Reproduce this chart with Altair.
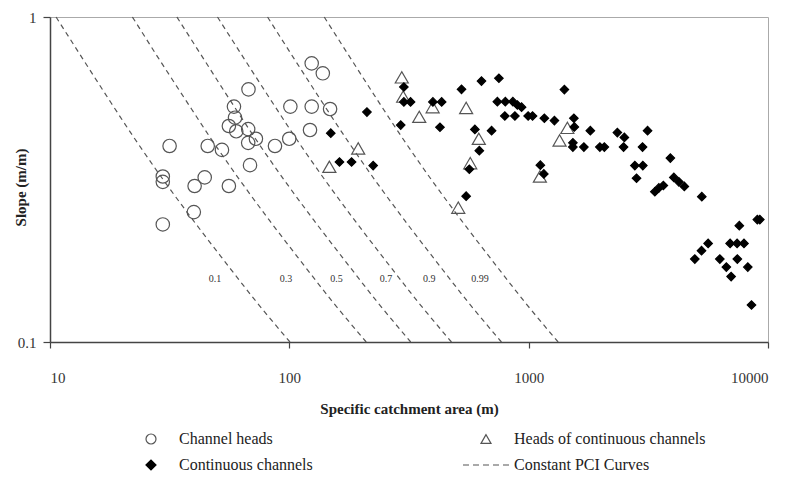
import altair as alt
import pandas as pd

# ---------------- data ----------------
# legend order (the legend fills column by column)
types = ["Channel heads", "Continuous channels",
         "Heads of continuous channels", "Constant PCI Curves"]

# Channel heads (open circles)
ch_area = [124, 138, 67.5, 58.7, 101, 124, 148, 59.3, 55.9, 67.3, 60.0, 122,
           72.5, 67.3, 99.9, 87.1, 31.6, 45.6, 52.3, 68.5, 29.6, 29.6, 44.3,
           40.2, 55.9, 39.9, 29.6]
ch_slope = [0.720, 0.671, 0.599, 0.530, 0.530, 0.530, 0.521, 0.490, 0.462,
            0.452, 0.445, 0.449, 0.422, 0.410, 0.422, 0.401, 0.401, 0.401,
            0.390, 0.350, 0.323, 0.311, 0.321, 0.302, 0.302, 0.251, 0.230]

# Heads of continuous channels (open triangles)
hc_area = [147, 194, 295, 299, 349, 397, 548, 619, 570, 508, 1114, 1451, 1346]
hc_slope = [0.346, 0.394, 0.652, 0.569, 0.493, 0.528, 0.525, 0.422, 0.355,
            0.259, 0.323, 0.456, 0.417]

# Continuous channels (filled diamonds)
cc_area = [149, 162, 182, 224, 211, 292, 301, 301, 321, 398, 433, 426, 524,
           635, 751, 740, 799, 859, 897, 934, 795, 876, 995, 1038, 1163, 1281,
           1410, 596, 700, 622, 565, 548, 1119, 1157, 1545, 1552, 1530, 1530,
           1701, 1810, 1984, 2071, 2347, 2511, 2492, 3139, 2991, 2777, 2999,
           2823, 3908, 4042, 4241, 4471, 3367, 3499, 3654, 5290, 9023, 9243,
           7588, 5622, 5275, 4946, 6946, 7429, 7937, 6292, 7445, 6697, 7014,
           8233, 8532]
cc_slope = [0.439, 0.358, 0.358, 0.349, 0.510, 0.465, 0.609, 0.548, 0.548,
            0.548, 0.548, 0.458, 0.599, 0.635, 0.648, 0.549, 0.549, 0.549,
            0.536, 0.528, 0.496, 0.496, 0.496, 0.496, 0.488, 0.480, 0.598,
            0.451, 0.447, 0.388, 0.340, 0.281, 0.350, 0.329, 0.488, 0.459,
            0.410, 0.398, 0.398, 0.447, 0.398, 0.398, 0.441, 0.426, 0.398,
            0.447, 0.398, 0.349, 0.349, 0.319, 0.368, 0.321, 0.311, 0.301,
            0.290, 0.298, 0.303, 0.280, 0.238, 0.238, 0.228, 0.201, 0.191,
            0.180, 0.201, 0.201, 0.201, 0.180, 0.180, 0.170, 0.159, 0.170,
            0.130]

# Constant PCI curves (dashed), read at these slope levels
pci_slope = [1.0, 0.750, 0.562, 0.422, 0.316, 0.237, 0.178, 0.133, 0.1]
pci_names = ["0.1", "0.3", "0.5", "0.7", "0.9", "0.99"]
pci_area = {
    "0.1":  [10.6, 13.6, 17.5, 22.6, 29.7, 39.6, 53.4, 72.8, 100.6],
    "0.3":  [22.1, 28.3, 36.5, 47.1, 61.9, 82.5, 111.2, 151.6, 209.5],
    "0.5":  [33.9, 43.5, 55.9, 72.2, 94.9, 126.6, 170.7, 232.7, 321.5],
    "0.7":  [50.1, 64.3, 82.8, 106.9, 140.5, 187.3, 252.6, 344.3, 475.8],
    "0.9":  [81.1, 104.0, 133.9, 172.9, 227.2, 302.9, 408.5, 556.9, 769.6],
    "0.99": [139.9, 179.5, 231.0, 298.3, 392.0, 522.7, 704.9, 961.0, 1328],
}
pci_label_area = [48.9, 96.8, 157.6, 253.2, 384.0, 625.5]
pci_label_slope = [0.156, 0.156, 0.156, 0.156, 0.156, 0.156]

# ---------------- tables ----------------
ch = pd.DataFrame({"area": ch_area, "slope": ch_slope, "type": "Channel heads"})
hc = pd.DataFrame({"area": hc_area, "slope": hc_slope,
                   "type": "Heads of continuous channels"})
cc = pd.DataFrame({"area": cc_area, "slope": cc_slope,
                   "type": "Continuous channels"})
rows = []
for n in pci_names:
    for a, s in zip(pci_area[n], pci_slope):
        rows.append({"area": a, "slope": s, "pci": n})
pci = pd.DataFrame(rows)
lab = pd.DataFrame({"area": pci_label_area, "slope": pci_label_slope,
                    "label": pci_names})

FONT = "Liberation Serif"
DASH = "M-4.6,0h1.2M-2.6,0h1.2M-0.6,0h1.2M1.4,0h1.2M3.4,0h1.2"

X = alt.X("area:Q",
          scale=alt.Scale(type="log", domain=[10, 10000], nice=False),
          axis=alt.Axis(values=[10, 100, 1000, 10000], format="~g",
                        title="Specific catchment area (m)", grid=False,
                        tickSize=6, labelPadding=22, titleY=66,
                        titleBaseline="middle"))
Y = alt.Y("slope:Q",
          scale=alt.Scale(type="log", domain=[0.1, 1], nice=False),
          axis=alt.Axis(values=[0.1, 1], format="~g", title="Slope (m/m)",
                        grid=False, tickSize=7, labelPadding=7,
                        titleX=-30, titleY=170, titleBaseline="middle"))

SHAPE = alt.Shape("type:N", scale=alt.Scale(
    domain=types, range=["circle", "diamond", "triangle-up", DASH]),
    legend=alt.Legend(
        title=None, orient="none", legendX=93, legendY=414, columns=2,
        columnPadding=147, rowPadding=10, symbolSize=100,
        labelFont=FONT, labelFontSize=16, labelColor="#222222",
        labelOffset=20, labelLimit=400, padding=0,
        symbolStrokeWidth=1.2))
FILL = alt.Fill("type:N", scale=alt.Scale(
    domain=types, range=["transparent", "black", "transparent", "transparent"]))
STROKE = alt.Stroke("type:N", scale=alt.Scale(
    domain=types, range=["#555555", "black", "#555555", "#555555"]))

lines = alt.Chart(pci).mark_line(
    strokeDash=[5, 4], color="#555555", strokeWidth=1.2, interpolate="monotone"
).encode(x=X, y=Y, detail="pci:N")

labels = alt.Chart(lab).mark_text(
    font=FONT, fontSize=10, color="#333333"
).encode(x=X, y=Y, text="label:N")


def pts(df, size):
    return alt.Chart(df).mark_point(
        filled=True, opacity=1, strokeWidth=1.2, size=size
    ).encode(x=X, y=Y, shape=SHAPE, fill=FILL, stroke=STROKE)


chart = alt.layer(lines, labels, pts(ch, 180), pts(hc, 170), pts(cc, 72)).properties(
    width=718, height=325,
    autosize=alt.AutoSizeParams(type="none"),
    padding={"left": 42, "top": 9, "right": 19, "bottom": 133},
).configure_view(
    stroke="#aaaaaa", strokeWidth=1
).configure_axis(
    labelFont=FONT, labelFontSize=15, labelColor="#333333",
    titleFont=FONT, titleFontSize=15, titleFontWeight="bold",
    titleColor="#222222", domainColor="#444444", domainWidth=1.5,
    tickColor="#444444", tickWidth=1.2
)

chart.save("out.html", embed_options={"renderer": "svg", "actions": False})
